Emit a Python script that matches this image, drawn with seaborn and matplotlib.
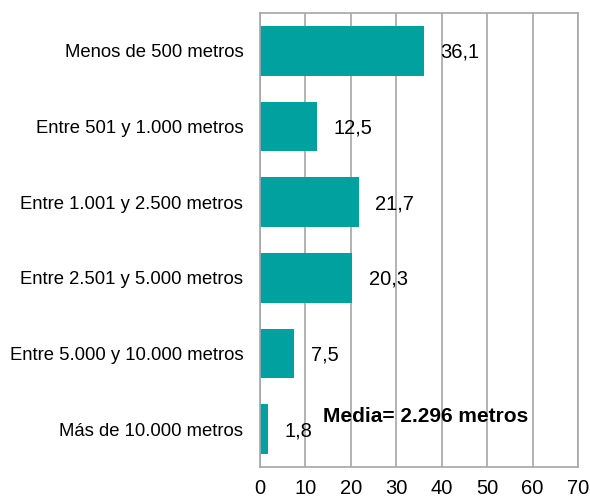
import matplotlib
matplotlib.use("Agg")
import matplotlib.pyplot as plt
import seaborn as sns
import pandas as pd

categorias = [
    "Menos de 500 metros",
    "Entre 501 y 1.000 metros",
    "Entre 1.001 y 2.500 metros",
    "Entre 2.501 y 5.000 metros",
    "Entre 5.000 y 10.000 metros",
    "Más de 10.000 metros",
]
porcentajes = [36.1, 12.5, 21.7, 20.3, 7.5, 1.8]
etiquetas = ["36,1", "12,5", "21,7", "20,3", "7,5", "1,8"]
ticks_x = [0, 10, 20, 30, 40, 50, 60, 70]
nota_media = "Media= 2.296 metros"

sns.set_theme(style="white")
plt.rcParams["font.family"] = ["Liberation Sans", "DejaVu Sans"]

df = pd.DataFrame({"categoria": categorias, "porcentaje": porcentajes})

fig = plt.figure(figsize=(5.9, 5.0), dpi=100)
ax = fig.add_axes([260 / 590, 1 - 467 / 500, 318 / 590, 454 / 500])

grid_color = "#A6A6A6"
for x in ticks_x:
    ax.axvline(x, color=grid_color, linewidth=1.2, zorder=0)

sns.barplot(data=df, x="porcentaje", y="categoria", orient="h",
            color="#00A19F", saturation=1, width=0.66, ax=ax, zorder=2,
            edgecolor="none")

for i, (v, lab) in enumerate(zip(porcentajes, etiquetas)):
    ax.annotate(lab, xy=(v, i), xytext=(12, -1), textcoords="offset points",
                ha="left", va="center", fontsize=14.5, color="black")

ax.text(0.198, 0.112, nota_media, transform=ax.transAxes, ha="left",
        va="center", fontsize=15, fontweight="bold", color="black")

ax.set_xlim(0, 70)
ax.set_ylim(5.5, -0.5)
ax.set_xticks(ticks_x)
ax.set_xticklabels([str(t) for t in ticks_x], fontsize=14.5)
ax.tick_params(axis="x", length=0, pad=9, colors="black")
ax.tick_params(axis="y", length=0, pad=12, labelsize=13.3, colors="black")
ax.set_xlabel("")
ax.set_ylabel("")
for s in ax.spines.values():
    s.set_visible(True)
    s.set_color(grid_color)
    s.set_linewidth(1.2)

fig.savefig("out.png", dpi=100)
